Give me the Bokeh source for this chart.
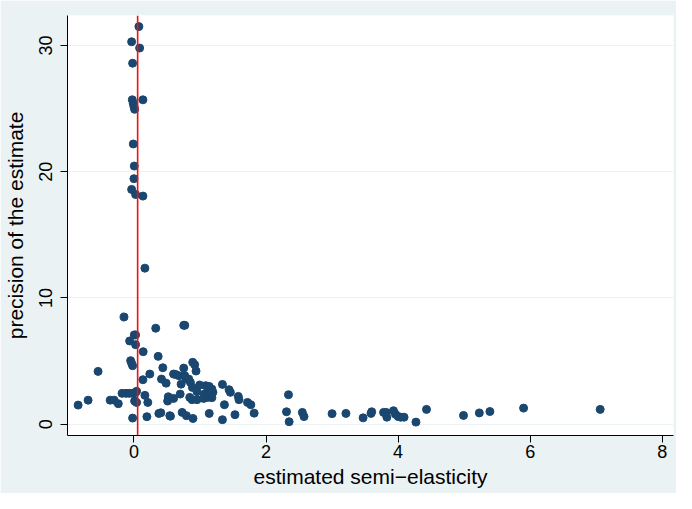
from bokeh.plotting import figure
from bokeh.models import Span, ColumnDataSource, FixedTicker, Range1d
from bokeh.embed import file_html
from bokeh.resources import INLINE

# estimated semi-elasticity
est = [0.075, -0.035, 0.086, -0.02, -0.025, 0.136, -0.01, 0.0, 0.01, -0.01,
       0.005, 0.0, -0.035, 0.025, 0.136, 0.166,
       -0.15, 0.33, 0.005, 0.025, -0.065, 0.025, 0.14, 0.367, -0.05, -0.035,
       -0.02, 0.437, -0.543, 0.24, 0.6, 0.136, 0.417, 0.487,
       -0.18, -0.12, -0.07, -0.02, 0.02, 0.04,
       0.166, 0.52, -0.845, -0.694, -0.36, -0.30, -0.237, 0.01, 0.04, 0.21,
       0.51, -0.02, 0.196, 0.377, 0.407, 0.553,
       0.754, 0.77, 0.754, 0.89, 0.92, 0.94, 0.63, 0.68, 0.77, 0.79, 0.83,
       0.855, 0.714, 0.995, 1.086, 1.14, 1.18, 1.116, 1.066, 1.196, 1.34,
       1.44, 1.46, 1.58, 1.59, 1.72, 1.77, 1.82, 0.6, 0.70, 0.845, 0.88,
       0.955, 1.056, 1.116, 1.14, 1.37, 0.543, 0.73, 0.795, 0.894, 1.14,
       1.34, 1.53, 0.885, 0.955, 1.18,
       2.34, 2.31, 2.35, 2.55, 2.575, 3.0, 3.21, 3.47, 3.59, 3.6, 3.78, 3.82,
       3.83, 3.93, 3.96, 4.0, 4.04, 4.09, 4.27, 4.43, 4.99, 5.23, 5.39, 5.9,
       7.06]

# precision of the estimate
prec = [31.5, 30.3, 29.8, 28.6, 25.7, 25.7, 25.4, 25.15, 24.95, 22.2,
        20.45, 19.45, 18.6, 18.2, 18.07, 12.36,
        8.49, 7.6, 7.07, 7.07, 6.59, 6.3, 5.74, 5.37, 5.03, 4.82,
        4.63, 4.47, 4.18, 3.97, 3.97, 3.52, 3.57, 3.25,
        2.44, 2.44, 2.44, 2.44, 2.5, 2.6,
        2.28, 2.17, 1.51, 1.9, 1.9, 1.9, 1.62, 1.83, 1.72, 1.72,
        1.83, 0.48, 0.59, 0.85, 0.9, 0.63,
        7.83, 7.83, 4.44, 4.9, 4.71, 4.21, 3.94, 3.84, 3.84, 3.57, 3.57,
        3.31, 3.17, 3.1, 3.05, 2.99, 2.78, 2.52, 2.38, 2.52, 3.15,
        2.73, 2.52, 2.2, 1.94, 1.72, 1.54, 0.87, 2.04, 2.38, 2.12, 1.94,
        1.94, 2.04, 2.12, 2.38, 1.54, 0.67, 0.93, 0.67, 0.45, 0.85,
        0.35, 0.75, 2.91, 2.57, 2.1,
        2.33, 0.98, 0.19, 0.93, 0.6, 0.83, 0.85, 0.5, 0.85, 0.98, 0.93, 0.93,
        0.55, 1.06, 0.79, 0.6, 0.55, 0.55, 0.16, 1.17, 0.69, 0.89, 1.0, 1.27,
        1.17]

ref_line = 0.056
x_ticks = [0, 2, 4, 6, 8]
y_ticks = [0, 10, 20, 30]

FONT = "Liberation Sans"
BG = "#EAF2F3"
NAVY = "#1A476F"

p = figure(width=676, height=493, output_backend="svg", toolbar_location=None,
           x_range=Range1d(-1.006, 8.17), y_range=Range1d(-0.9, 32.38),
           min_border_left=65, min_border_right=3, min_border_top=15,
           min_border_bottom=58)
p.border_fill_color = BG
p.background_fill_color = "white"
p.outline_line_color = None

src = ColumnDataSource(dict(x=est, y=prec))
p.scatter("x", "y", source=src, size=8, color=NAVY, line_color=NAVY)

p.add_layout(Span(location=ref_line, dimension="height", line_color="#F01010",
                  line_width=1.6))

p.xgrid.grid_line_color = None
p.ygrid.grid_line_color = BG
p.ygrid.grid_line_width = 1.2

p.xaxis.ticker = FixedTicker(ticks=x_ticks)
p.yaxis.ticker = FixedTicker(ticks=y_ticks)
p.xaxis.axis_label = "estimated semi\u2212elasticity"
p.yaxis.axis_label = "precision of the estimate"
p.yaxis.major_label_orientation = "vertical"

for ax in (p.xaxis, p.yaxis):
    ax.axis_line_color = "black"
    ax.major_tick_line_color = "black"
    ax.minor_tick_line_color = None
    ax.major_tick_out = 7
    ax.major_tick_in = 0
    ax.major_label_text_font = FONT
    ax.major_label_text_font_size = "18px"
    ax.major_label_text_color = "black"
    ax.axis_label_text_font = FONT
    ax.axis_label_text_font_size = "21px"
    ax.axis_label_text_font_style = "normal"
    ax.axis_label_text_color = "black"

p.xaxis.major_label_standoff = 2
p.xaxis.axis_label_standoff = 4
p.yaxis.major_label_standoff = 8
p.yaxis.axis_label_standoff = 10

open("out.html", "w").write(file_html(p, INLINE))
